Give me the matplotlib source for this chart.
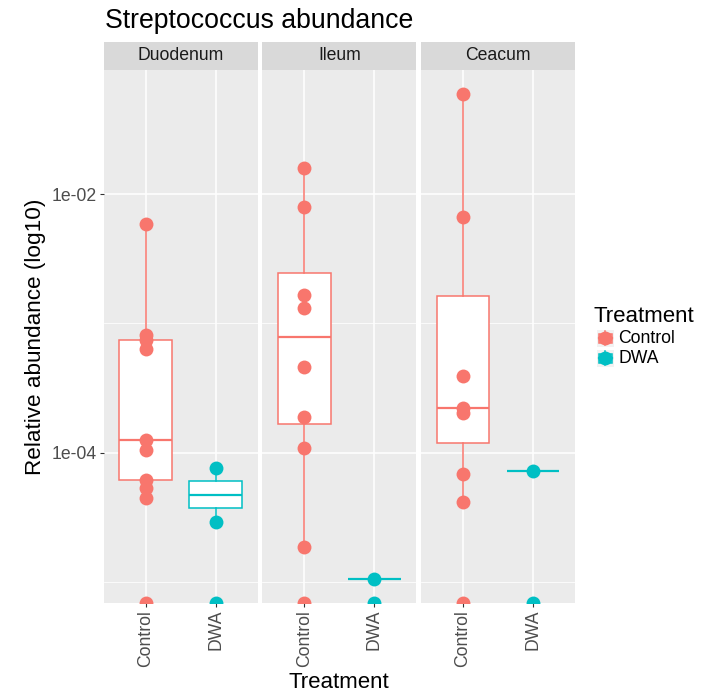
import numpy as np
import matplotlib
matplotlib.use('Agg')
import matplotlib.pyplot as plt
from matplotlib import cbook
from matplotlib.patches import Rectangle
from matplotlib.lines import Line2D

plt.rcParams['font.family'] = ['Liberation Sans', 'DejaVu Sans']

sites = ['Duodenum', 'Ileum', 'Ceacum']
treatments = ['Control', 'DWA']
colors = ['#F8766D', '#00BFC4']

# relative abundance per sample, 0 = not detected
duodenum_control = [0.00586, 0.000815, 0.000746, 0.000636, 0.000126, 0.000105,
                    0.0000619, 0.0000537, 0.0000449, 0]
duodenum_dwa = [0.0000765, 0.0000293, 0]
ileum_control = [0.0159, 0.00793, 0.00166, 0.00132, 0.000461, 0.000190,
                 0.000109, 0.0000185, 0]
ileum_dwa = [0.0000106, 0]
ceacum_control = [0.0592, 0.00665, 0.000393, 0.000223, 0.000204, 0.0000688,
                  0.0000418, 0]
ceacum_dwa = [0.0000726, 0]

y_breaks = [1e-4, 1e-2]
y_labels = ['1e-04', '1e-02']

abundance = [
    [duodenum_control, duodenum_dwa],
    [ileum_control, ileum_dwa],
    [ceacum_control, ceacum_dwa],
]

W, H = 703, 695
fig = plt.figure(figsize=(W / 100, H / 100), dpi=100)

# log10 values, zeros become -inf and get pushed to the panel floor
logs = [[np.log10(np.array(v, dtype=float), where=np.array(v) > 0,
                  out=np.full(len(v), -np.inf)) for v in row] for row in abundance]
finite = np.concatenate([l[np.isfinite(l)] for row in logs for l in row])
lo, hi = finite.min(), finite.max()
pad = 0.05 * (hi - lo)
ylim = (lo - pad, hi + pad)

major = np.log10(y_breaks)
minor = np.arange(np.floor(ylim[0]), np.ceil(ylim[1]) + 1)
minor = minor[(minor % 2 != 0) & (minor > ylim[0]) & (minor < ylim[1])]

panel_top, panel_bot = 70, 603
panel_w = 154
lefts = [103.5, 262.3, 421.0]
strip_h = 28 / (panel_bot - panel_top)

tick_grey = '#4D4D4D'

for i, site in enumerate(sites):
    ax = fig.add_axes([lefts[i] / W, 1 - panel_bot / H, panel_w / W,
                       (panel_bot - panel_top) / H])
    ax.set_facecolor('#EBEBEB')
    ax.set_axisbelow(True)
    for s in ax.spines.values():
        s.set_visible(False)

    for j, vals in enumerate(logs[i]):
        c = colors[j]
        fin = vals[np.isfinite(vals)]
        stats = cbook.boxplot_stats(fin, whis=1.5)
        ax.bxp(stats, positions=[j + 1], widths=0.75, showfliers=False,
               showcaps=False, patch_artist=True, manage_ticks=False,
               boxprops=dict(facecolor='white', edgecolor=c, lw=1.1),
               medianprops=dict(color=c, lw=1.6),
               whiskerprops=dict(color=c, lw=1.1), zorder=2)
        yv = np.where(np.isfinite(vals), vals, ylim[0])
        ax.plot(np.full(len(yv), j + 1), yv, 'o', color=c, ms=10, mew=0,
                zorder=3)

    ax.set_xlim(0.4, 2.6)
    ax.set_ylim(*ylim)
    ax.set_xticks([1, 2])
    ax.set_xticklabels(treatments, rotation=90, fontsize=12.7, color=tick_grey)
    ax.set_yticks(major)
    ax.set_yticks(minor, minor=True)
    if i == 0:
        ax.set_yticklabels(y_labels, fontsize=12.7, color=tick_grey)
    else:
        ax.set_yticklabels([])
    ax.tick_params(which='major', length=3, width=0.8, color='#333333', pad=2)
    ax.tick_params(which='minor', length=0)
    if i > 0:
        ax.tick_params(axis='y', length=0)
    ax.grid(which='major', color='white', lw=1.1)
    ax.grid(which='minor', axis='y', color='white', lw=0.55)

    ax.add_patch(Rectangle((0, 1), 1, strip_h, transform=ax.transAxes,
                           facecolor='#D9D9D9', edgecolor='none', clip_on=False))
    ax.text(0.5, 1 + strip_h / 2, site, transform=ax.transAxes, ha='center',
            va='center', fontsize=12.7, color='#1A1A1A')

fig.text(105 / W, 1 - 28.5 / H, 'Streptococcus abundance', fontsize=19.2,
         ha='left', va='baseline')
fig.text(35.5 / W, 1 - 336.5 / H, 'Relative abundance (log10)', fontsize=16.2,
         rotation=90, ha='center', va='center')
fig.text(339 / W, 1 - 683 / H, 'Treatment', fontsize=16, ha='center',
         va='center')

# legend
fig.text(594 / W, 1 - 322 / H, 'Treatment', fontsize=16, ha='left',
         va='baseline')
key = 17.5
for j, t in enumerate(treatments):
    c = colors[j]
    kx, ky = 596.5, 329.5 + j * 20
    kax = fig.add_axes([kx / W, 1 - (ky + key) / H, key / W, key / H])
    kax.set_xlim(0, 1)
    kax.set_ylim(0, 1)
    kax.axis('off')
    kax.add_patch(Rectangle((0, 0), 1, 1, facecolor='#F2F2F2',
                            edgecolor='none'))
    kax.add_line(Line2D([0.5, 0.5], [0.1, 0.9], color=c, lw=1.1))
    kax.add_patch(Rectangle((0.125, 0.25), 0.75, 0.5, facecolor='white',
                            edgecolor=c, lw=1.1))
    kax.add_line(Line2D([0.125, 0.875], [0.5, 0.5], color=c, lw=1.6))
    kax.plot([0.5], [0.5], 'o', color=c, ms=10, mew=0, clip_on=False)
    fig.text(618 / W, 1 - (ky + key / 2) / H, t, fontsize=12.7, ha='left',
             va='center')

fig.savefig('out.png', dpi=100)
